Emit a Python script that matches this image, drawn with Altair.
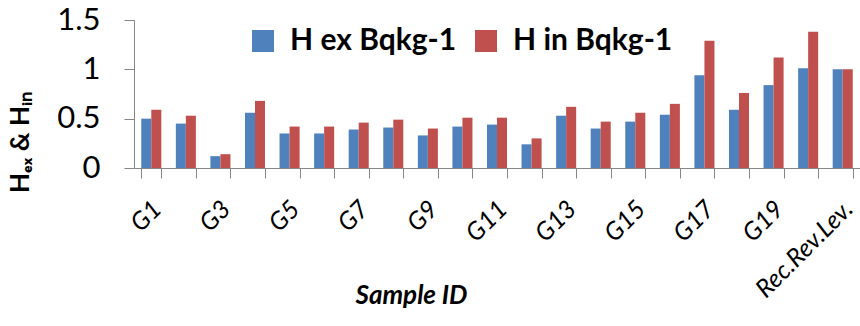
import altair as alt
import pandas as pd

# Sample identifiers along the x axis
samples = [
    "G1", "G2", "G3", "G4", "G5", "G6", "G7", "G8", "G9", "G10",
    "G11", "G12", "G13", "G14", "G15", "G16", "G17", "G18", "G19", "G20",
    "Rec.Rev.Lev.",
]

# External and internal hazard indices per sample
h_ex = [0.50, 0.45, 0.12, 0.56, 0.35, 0.35, 0.39, 0.41, 0.33, 0.42,
        0.44, 0.24, 0.53, 0.40, 0.47, 0.54, 0.94, 0.59, 0.84, 1.01, 1.00]
h_in = [0.59, 0.53, 0.14, 0.68, 0.42, 0.42, 0.46, 0.49, 0.40, 0.51,
        0.51, 0.30, 0.62, 0.47, 0.56, 0.65, 1.29, 0.76, 1.12, 1.38, 1.00]

series_names = ["H ex Bqkg-1", "H in Bqkg-1"]
series_colors = ["#4F81BD", "#C0504D"]

rows = []
for i, s in enumerate(samples):
    rows.append({"sample": s, "series": series_names[0], "value": h_ex[i]})
    rows.append({"sample": s, "series": series_names[1], "value": h_in[i]})
df = pd.DataFrame(rows)

# Only every other sample gets a visible tick label
shown = samples[::2]
label_expr = "indexof([" + ",".join("'" + s + "'" for s in shown) + "], datum.label) >= 0 ? datum.label : ''"

FONT = "Lato"
AXIS_GRAY = "#868686"

chart = (
    alt.Chart(df)
    .mark_bar()
    .encode(
        x=alt.X(
            "sample:N",
            sort=samples,
            scale=alt.Scale(paddingInner=0.42, paddingOuter=0.21),
            axis=alt.Axis(
                title="Sample ID",
                titleFont=FONT,
                titleFontSize=26,
                titleFontWeight="bold",
                titleFontStyle="italic",
                titleColor="#000000",
                titleX=277,
                titleY=135,
                titleAlign="center",
                titleBaseline="alphabetic",
                labelExpr=label_expr,
                labelAngle=-45,
                labelFont=FONT,
                labelFontSize=25,
                labelFontStyle="italic",
                labelColor="#000000",
                labelPadding=18,
                labelOffset=-3,
                labelOverlap=False,
                labelLimit=300,
                tickBand="extent",
                tickSize=10,
                tickColor=AXIS_GRAY,
                domainColor=AXIS_GRAY,
                grid=False,
            ),
        ),
        xOffset=alt.XOffset(
            "series:N",
            sort=series_names,
            scale=alt.Scale(paddingInner=0, paddingOuter=0),
        ),
        y=alt.Y(
            "value:Q",
            scale=alt.Scale(domain=[0, 1.5], nice=False),
            axis=alt.Axis(
                values=[0, 0.5, 1, 1.5],
                format=".1~f",
                title="Hₑₓ & Hᵢₙ",
                titleFont=FONT,
                titleFontSize=26,
                titleFontWeight="bold",
                titleColor="#000000",
                titleAngle=-90,
                titleX=-106,
                titleY=122,
                titleAlign="center",
                titleBaseline="alphabetic",
                labelFont=FONT,
                labelFontSize=31,
                labelColor="#000000",
                labelPadding=24,
                tickSize=10,
                tickColor=AXIS_GRAY,
                domainColor=AXIS_GRAY,
                grid=False,
            ),
        ),
        color=alt.Color(
            "series:N",
            sort=series_names,
            scale=alt.Scale(domain=series_names, range=series_colors),
            legend=alt.Legend(
                title=None,
                orient="none",
                direction="horizontal",
                legendX=114,
                legendY=6,
                symbolType="square",
                symbolSize=484,
                symbolStrokeWidth=0,
                symbolOpacity=1,
                labelFont=FONT,
                labelFontSize=30,
                labelFontWeight="bold",
                labelColor="#000000",
                labelOffset=12,
                columnPadding=14,
                labelLimit=400,
            ),
        ),
    )
    .properties(
        width=726,
        height=148,
        autosize=alt.AutoSizeParams(type="none"),
        padding={"left": 134, "top": 20, "right": 0, "bottom": 158},
        background="#ffffff",
    )
    .configure_view(stroke=None)
)

chart.save("out.html", embed_options={"renderer": "svg", "actions": False})
